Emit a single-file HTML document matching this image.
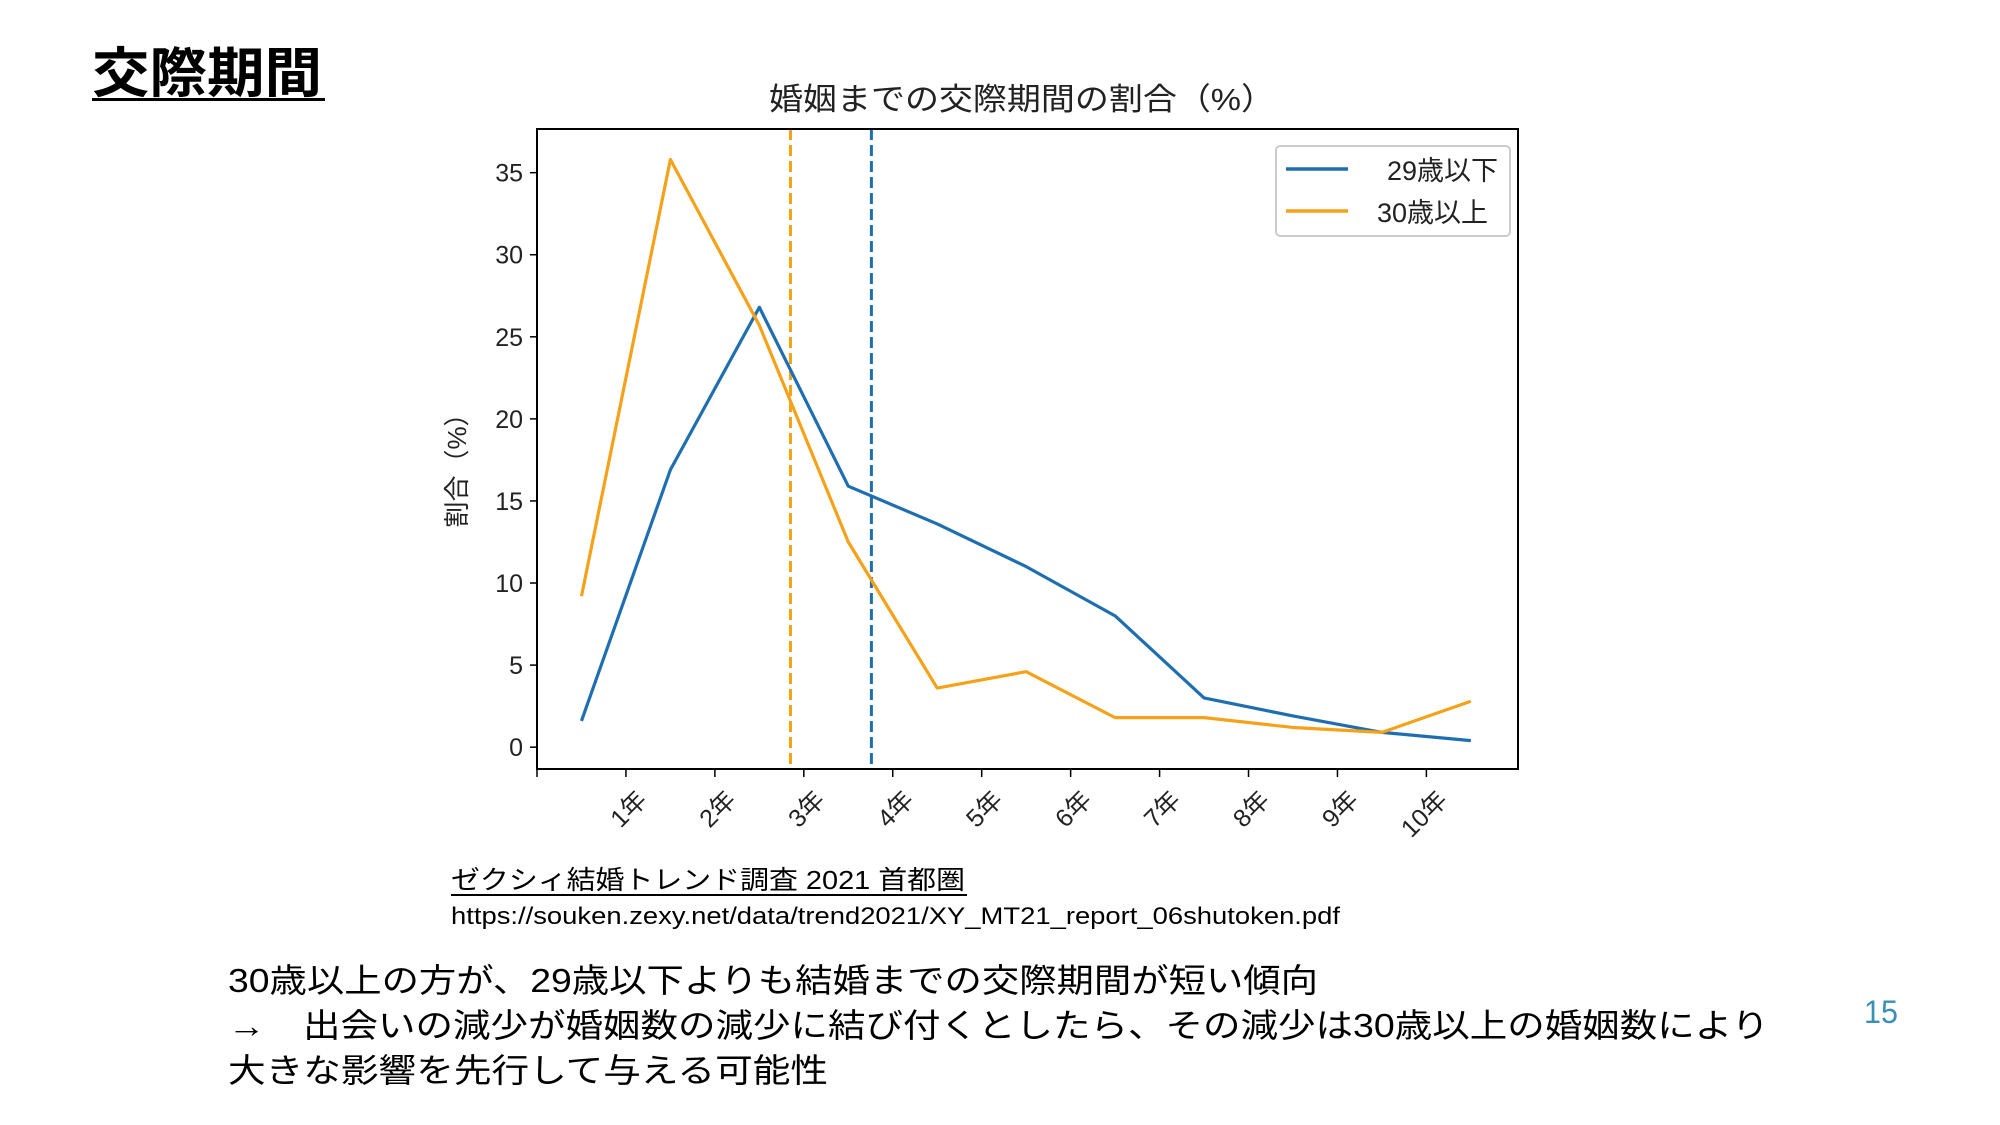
<!DOCTYPE html>
<html><head><meta charset="utf-8"><style>
body{margin:0;background:#fff;}
svg{display:block;font-family:"Liberation Sans","Noto Sans CJK JP",sans-serif;}
</style></head><body>
<svg id="chart" width="2000" height="1125" viewBox="0 0 2000 1125">
<text x="92" y="92" font-size="54" font-weight="bold" textLength="230" lengthAdjust="spacingAndGlyphs">交際期間</text>
<rect x="92" y="98" width="233" height="3" fill="#000"/>
<text x="769" y="110" font-size="31" textLength="506" lengthAdjust="spacingAndGlyphs" fill="#222">婚姻までの交際期間の割合（%）</text>
<g id="plot"></g>
<text x="451" y="889" font-size="26" textLength="514" lengthAdjust="spacingAndGlyphs">ゼクシィ結婚トレンド調査 2021 首都圏</text>
<rect x="451" y="894" width="516" height="2" fill="#000"/>
<text x="451" y="924" font-size="24" textLength="889" lengthAdjust="spacingAndGlyphs">https://souken.zexy.net/data/trend2021/XY_MT21_report_06shutoken.pdf</text>
<text x="228" y="992" font-size="33" textLength="1090" lengthAdjust="spacingAndGlyphs">30歳以上の方が、29歳以下よりも結婚までの交際期間が短い傾向</text>
<text x="228" y="1037" font-size="33" textLength="1541" lengthAdjust="spacingAndGlyphs">→　出会いの減少が婚姻数の減少に結び付くとしたら、その減少は30歳以上の婚姻数により</text>
<text x="228" y="1082" font-size="33" textLength="600" lengthAdjust="spacingAndGlyphs">大きな影響を先行して与える可能性</text>
<text x="1864" y="1023" font-size="32" textLength="34" lengthAdjust="spacingAndGlyphs" fill="#3a8fb7">15</text>
</svg>
<script>
const categories = ["1年","2年","3年","4年","5年","6年","7年","8年","9年","10年"];
const xPoints = [0.5,1.5,2.5,3.5,4.5,5.5,6.5,7.5,8.5,9.5,10.5];
const under29 = [1.6,16.9,26.8,15.9,13.6,11.0,8.0,3.0,1.9,0.9,0.4];
const over30 = [9.2,35.8,25.7,12.5,3.6,4.6,1.8,1.8,1.2,0.9,2.8];
const meanUnder29 = 3.76;
const meanOver30 = 2.85;
const yTicks = [0,5,10,15,20,25,30,35];
const seriesNames = ["29歳以下","30歳以上"];

const L=537,T=129,R=1518,B=769;
const xMin=0,xMax=11.03,yMin=-1.33,yMax=37.66;
const sx=v=>L+(v-xMin)/(xMax-xMin)*(R-L);
const sy=v=>B-(v-yMin)/(yMax-yMin)*(B-T);
const NS="http://www.w3.org/2000/svg";
const g=document.getElementById('plot');
function mk(tag,attrs,parent){const e=document.createElementNS(NS,tag);for(const k in attrs)e.setAttribute(k,attrs[k]);(parent||g).appendChild(e);return e;}
const BLUE="#1f6fb0",ORANGE="#f5a21a";

yTicks.forEach(v=>{
  const t=mk('line',{x1:L-7,x2:L,y1:sy(v),y2:sy(v),stroke:"#000","stroke-width":1.5});
  
  
  const lb=mk('text',{x:L-14,y:sy(v)+9,"font-size":25,"text-anchor":"end",fill:"#222"});
  lb.textContent=v;
  
  
});
[0].concat(categories.map((c,i)=>i+1)).forEach(v=>{
  const t=mk('line',{x1:sx(v),x2:sx(v),y1:B,y2:B+8,stroke:"#000","stroke-width":1.5});
  
  
});
categories.forEach((c,i)=>{
  const x=sx(i+1),y=B+20;
  const lb=mk('text',{x:x+10,y:y,"font-size":25,"text-anchor":"end",fill:"#222",transform:`rotate(-45 ${x+10} ${y})`,dy:"0.7em"});
  lb.textContent=c;
  
  
});
const yl=mk('text',{x:0,y:0,"font-size":26,"text-anchor":"middle",fill:"#222",transform:`translate(466 464) rotate(-90)`});
yl.textContent="割合（%）";



const vo=mk('line',{x1:sx(meanOver30),x2:sx(meanOver30),y1:T,y2:B,stroke:ORANGE,"stroke-width":3,"stroke-dasharray":"11,5"});


const vb=mk('line',{x1:sx(meanUnder29),x2:sx(meanUnder29),y1:T,y2:B,stroke:BLUE,"stroke-width":3,"stroke-dasharray":"11,5"});



function line(data,color,name){
  const p=mk('polyline',{points:data.map((v,i)=>sx(xPoints[i])+","+sy(v)).join(" "),fill:"none",stroke:color,"stroke-width":3.2,"stroke-linejoin":"round"});
  
  
}
line(under29,BLUE,'series-29-under');
line(over30,ORANGE,'series-30-over');

const fr=mk('rect',{x:L,y:T,width:R-L,height:B-T,fill:"none",stroke:"#000","stroke-width":2});



const lg=mk('rect',{x:1276,y:146,width:234,height:90,rx:4,fill:"#fff",stroke:"#ccc","stroke-width":2});


[[BLUE,seriesNames[0],180,1498],[ORANGE,seriesNames[1],222,1488]].forEach(([c,n,y,tx])=>{
  const s=mk('line',{x1:1286,x2:1348,y1:y-11,y2:y-11,stroke:c,"stroke-width":3.5});
  
  
  const t=mk('text',{x:tx,y:y,"font-size":27,"text-anchor":"end",fill:"#222"});
  t.textContent=n;
  
  
});
</script>
</body></html>
